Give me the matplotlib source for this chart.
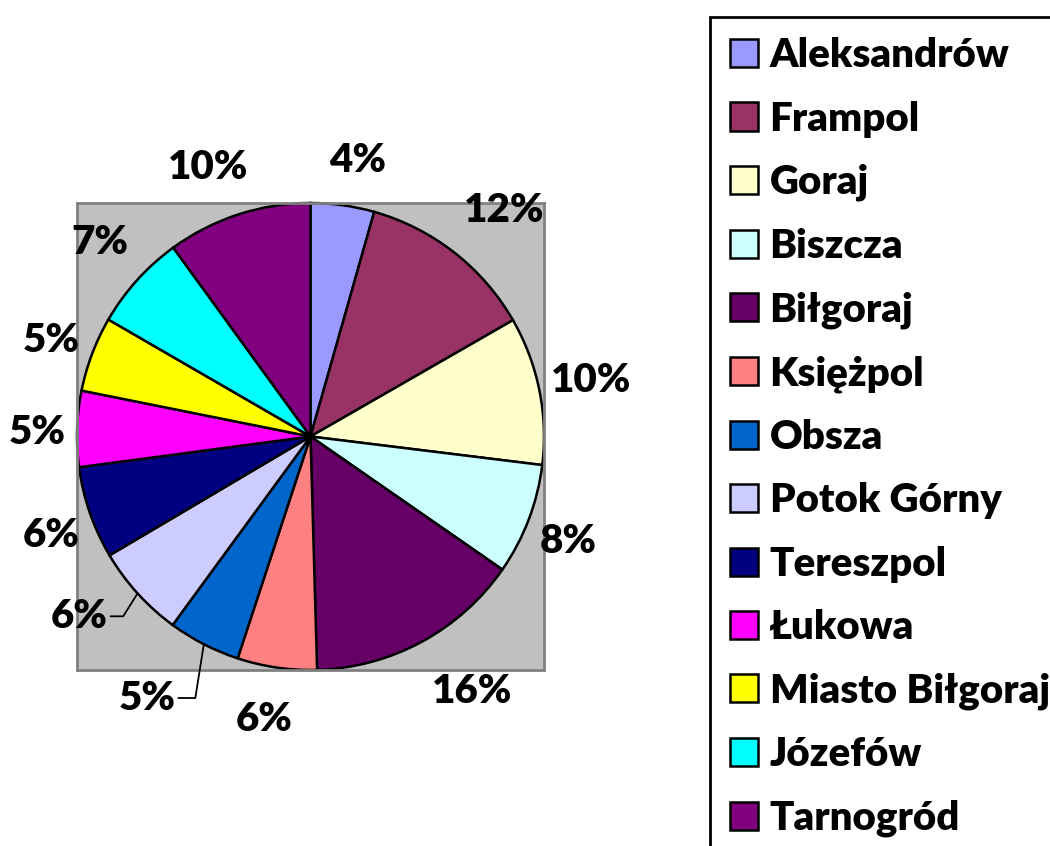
import numpy as np
import matplotlib
matplotlib.use("Agg")
import matplotlib.pyplot as plt

plt.rcParams['font.family'] = ['Lato', 'DejaVu Sans']
plt.rcParams['font.weight'] = 'heavy'

# communes, clockwise from 12 o'clock
names = [
    "Aleksandrów", "Frampol", "Goraj", "Biszcza", "Biłgoraj", "Księżpol",
    "Obsza", "Potok Górny", "Tereszpol", "Łukowa", "Miasto Biłgoraj",
    "Józefów", "Tarnogród",
]
# slice sizes (%)
shares = [4.4, 12.3, 10.25, 7.7, 14.9, 5.5, 5.0, 6.45, 6.4, 5.25, 5.2, 6.65, 10.0]
# percentage labels as printed on the chart
pct_labels = ["4%", "12%", "10%", "8%", "16%", "6%", "5%", "6%", "6%",
              "5%", "5%", "7%", "10%"]
colors = [
    "#9999FF", "#993366", "#FFFFCC", "#CCFFFF", "#660066", "#FF8080",
    "#0066CC", "#CCCCFF", "#000080", "#FF00FF", "#FFFF00", "#00FFFF",
    "#800080",
]

# label placement (axes data units, pie radius = 1)
label_pos = [
    (0.20, 1.18), (0.83, 0.97), (1.20, 0.24), (1.105, -0.45),
    (0.69, -1.09), (-0.20, -1.21), (-0.70, -1.12), (-0.99, -0.77),
    (-1.11, -0.425), (-1.17, 0.017), (-1.11, 0.41), (-0.90, 0.83),
    (-0.44, 1.15),
]
# slices whose label is tied to the pie by a leader line: index -> angleB
leaders = {6: 81, 7: 58}

fig = plt.figure(figsize=(10.5, 8.46), dpi=100)
ax = fig.add_axes([77 / 1050, (846 - 670) / 846, 467 / 1050, 467 / 846])

wedges, _ = ax.pie(
    shares,
    colors=colors,
    startangle=90,
    counterclock=False,
    radius=1,
    wedgeprops=dict(edgecolor="black", linewidth=1.8),
)
ax.set_xlim(-1, 1)
ax.set_ylim(-1, 1)
ax.set_frame_on(True)
ax.set_facecolor("#C0C0C0")
ax.set_xticks([])
ax.set_yticks([])
for sp in ax.spines.values():
    sp.set_color("#808080")
    sp.set_linewidth(2)

for i, (w, txt) in enumerate(zip(wedges, pct_labels)):
    lx, ly = label_pos[i]
    if i in leaders:
        mid = np.deg2rad((w.theta1 + w.theta2) / 2)
        ax.annotate(
            txt, xy=(np.cos(mid), np.sin(mid)), xytext=(lx, ly),
            ha="center", va="center", fontsize=29, fontweight="heavy",
            annotation_clip=False,
            arrowprops=dict(
                arrowstyle="-", color="black", lw=1.3,
                shrinkA=0, shrinkB=0,
                connectionstyle=f"angle,angleA=0,angleB={leaders[i]},rad=0",
            ),
        )
    else:
        ax.text(lx, ly, txt, ha="center", va="center", fontsize=29,
                fontweight="heavy", clip_on=False)

leg = fig.legend(
    wedges, names,
    loc="upper left",
    bbox_to_anchor=(710 / 1050, 1 - 17 / 846),
    borderaxespad=0,
    fontsize=29,
    handlelength=0.7,
    handleheight=0.7,
    handletextpad=0.28,
    labelspacing=0.655,
    borderpad=0.5,
    fancybox=False,
    frameon=True,
    framealpha=1,
)
leg.get_frame().set_edgecolor("black")
leg.get_frame().set_linewidth(2)
for t in leg.get_texts():
    t.set_fontweight("heavy")

fig.savefig("out.png", dpi=100)
